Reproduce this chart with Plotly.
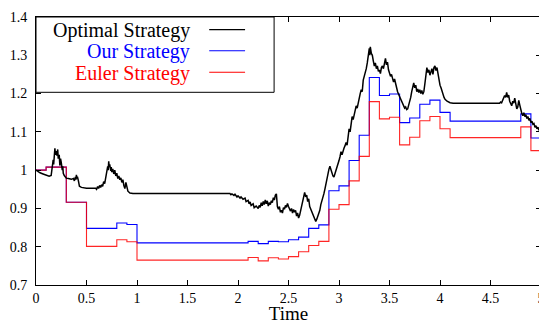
import plotly.graph_objects as go

# ---- data ----
step_times = [round(0.1 * i, 1) for i in range(51)]

our_strategy = [1.000, 1.008, 1.008, 0.916, 0.916, 0.848, 0.848, 0.848, 0.862, 0.858,
                0.810, 0.810, 0.810, 0.810, 0.810, 0.810, 0.810, 0.810, 0.810, 0.810, 0.810,
                0.814, 0.808, 0.814, 0.813, 0.818, 0.825, 0.848, 0.857,
                0.946, 0.959, 1.025, 1.091, 1.242, 1.195, 1.199, 1.124, 1.136, 1.172,
                1.183, 1.151,
                1.128, 1.128, 1.128, 1.128, 1.128, 1.128, 1.128,
                1.147, 1.084]

euler_strategy = [1.000, 1.008, 1.008, 0.916, 0.916, 0.801, 0.801, 0.801, 0.818, 0.813,
                  0.765, 0.765, 0.765, 0.765, 0.765, 0.765, 0.765, 0.765, 0.765, 0.765, 0.765,
                  0.772, 0.763, 0.771, 0.768, 0.774, 0.787, 0.803, 0.814,
                  0.898, 0.910, 0.972, 1.036, 1.179, 1.134, 1.138, 1.066, 1.086, 1.129,
                  1.140, 1.108,
                  1.085, 1.085, 1.085, 1.085, 1.085, 1.085, 1.085,
                  1.113, 1.051]

opt_t = [0.00, 0.02, 0.04, 0.07, 0.10, 0.13, 0.15, 0.16, 0.17, 0.175, 0.18, 0.187, 0.193, 0.20,
         0.207, 0.215, 0.22, 0.23, 0.236, 0.243, 0.25, 0.26, 0.265, 0.27, 0.28, 0.29, 0.30, 0.32,
         0.35, 0.37, 0.38, 0.39, 0.395, 0.40, 0.405, 0.41, 0.42, 0.43, 0.45, 0.50, 0.55, 0.59,
         0.60, 0.61, 0.62, 0.63, 0.64, 0.65, 0.66, 0.67, 0.68, 0.69, 0.70, 0.71, 0.715, 0.72,
         0.725, 0.73, 0.74, 0.745, 0.75, 0.76, 0.77, 0.78, 0.79, 0.80, 0.81, 0.82, 0.83, 0.84,
         0.85, 0.86, 0.87, 0.88, 0.89, 0.90, 0.91, 0.93, 0.96, 1.50, 1.92, 1.93, 1.94, 1.96,
         1.97, 1.99, 2.00, 2.02, 2.03, 2.05, 2.07, 2.08, 2.10, 2.11, 2.12, 2.13, 2.15, 2.16,
         2.18, 2.20, 2.21, 2.22, 2.23, 2.24, 2.25, 2.26, 2.27, 2.28, 2.29, 2.30, 2.31, 2.32,
         2.33, 2.34, 2.35, 2.36, 2.37, 2.38, 2.385, 2.39, 2.40, 2.41, 2.42, 2.43, 2.44, 2.45,
         2.46, 2.47, 2.48, 2.49, 2.50, 2.51, 2.52, 2.53, 2.54, 2.55, 2.56, 2.57, 2.58, 2.59,
         2.60, 2.61, 2.62, 2.63, 2.64, 2.65, 2.66, 2.67, 2.68, 2.69, 2.70, 2.71, 2.72, 2.73,
         2.74, 2.75, 2.76, 2.77, 2.78, 2.79, 2.80, 2.81, 2.82, 2.83, 2.84, 2.85, 2.86, 2.87,
         2.88, 2.89, 2.90, 2.91, 2.92, 2.93, 2.94, 2.95, 2.96, 2.97, 2.98, 2.99, 3.00, 3.01,
         3.02, 3.03, 3.04, 3.05, 3.06, 3.07, 3.08, 3.09, 3.10, 3.11, 3.12, 3.13, 3.14, 3.15,
         3.16, 3.17, 3.18, 3.19, 3.20, 3.21, 3.22, 3.23, 3.24, 3.25, 3.26, 3.27, 3.28, 3.29,
         3.30, 3.305, 3.31, 3.32, 3.33, 3.34, 3.35, 3.36, 3.37, 3.38, 3.39, 3.40, 3.41, 3.42,
         3.43, 3.44, 3.45, 3.46, 3.47, 3.48, 3.49, 3.50, 3.51, 3.52, 3.53, 3.54, 3.55, 3.56,
         3.57, 3.58, 3.59, 3.60, 3.61, 3.62, 3.63, 3.64, 3.65, 3.66, 3.67, 3.68, 3.69, 3.70,
         3.71, 3.72, 3.73, 3.74, 3.75, 3.76, 3.77, 3.78, 3.79, 3.80, 3.81, 3.82, 3.83, 3.84,
         3.85, 3.86, 3.87, 3.88, 3.89, 3.90, 3.91, 3.92, 3.93, 3.94, 3.95, 3.96, 3.97, 3.98,
         3.99, 4.00, 4.01, 4.02, 4.03, 4.04, 4.05, 4.07, 4.10, 4.13, 4.59, 4.60, 4.61, 4.62,
         4.63, 4.64, 4.65, 4.66, 4.67, 4.68, 4.69, 4.70, 4.71, 4.72, 4.73, 4.74, 4.75, 4.76,
         4.77, 4.78, 4.79, 4.80, 4.81, 4.82, 4.83, 4.84, 4.85, 4.86, 4.87, 4.88, 4.89, 4.90,
         4.91, 4.92, 4.93, 4.94, 4.95, 4.96, 4.97, 4.98, 4.99, 5.00]

opt_v = [1.000, 0.996, 0.993, 0.990, 0.987, 0.984, 0.986, 1.005, 1.027, 1.015, 1.045, 1.057, 1.040, 1.050,
         1.038, 1.054, 1.030, 1.040, 1.012, 1.030, 1.020, 1.000, 1.010, 0.992, 0.986, 0.982, 0.979, 0.978,
         0.976, 0.978, 0.972, 0.982, 0.975, 0.988, 0.978, 0.983, 0.972, 0.958, 0.955, 0.953, 0.953, 0.953,
         0.950, 0.957, 0.952, 0.960, 0.955, 0.962, 0.958, 0.970, 0.965, 0.982, 0.995, 1.010, 1.000, 1.023,
         1.008, 1.015, 0.998, 1.008, 0.995, 1.003, 0.990, 1.000, 0.985, 0.992, 0.978, 0.985, 0.975, 0.980,
         0.968, 0.975, 0.960, 0.952, 0.968, 0.955, 0.945, 0.940, 0.939, 0.939, 0.939, 0.936, 0.938, 0.934,
         0.937, 0.930, 0.933, 0.927, 0.930, 0.924, 0.927, 0.918, 0.921, 0.912, 0.917, 0.908, 0.912, 0.902,
         0.906, 0.900, 0.908, 0.903, 0.915, 0.907, 0.918, 0.910, 0.922, 0.912, 0.920, 0.906, 0.915, 0.910,
         0.920, 0.915, 0.928, 0.922, 0.935, 0.938, 0.918, 0.905, 0.898, 0.905, 0.890, 0.895, 0.888, 0.902,
         0.898, 0.908, 0.903, 0.913, 0.905, 0.898, 0.893, 0.900, 0.888, 0.897, 0.890, 0.895, 0.880, 0.888,
         0.875, 0.882, 0.895, 0.905, 0.920, 0.930, 0.942, 0.930, 0.935, 0.918, 0.925, 0.905, 0.898, 0.890,
         0.882, 0.875, 0.870, 0.866, 0.872, 0.880, 0.888, 0.895, 0.910, 0.918, 0.925, 0.938, 0.950, 0.965,
         0.980, 0.997, 1.002, 1.010, 1.000, 0.992, 0.985, 0.982, 0.990, 0.995, 1.003, 1.015, 1.025, 1.035,
         1.048, 1.040, 1.052, 1.058, 1.064, 1.072, 1.065, 1.090, 1.108, 1.100, 1.118, 1.140, 1.132, 1.145,
         1.152, 1.168, 1.162, 1.178, 1.190, 1.200, 1.210, 1.205, 1.235, 1.245, 1.250, 1.265, 1.280, 1.300,
         1.318, 1.300, 1.322, 1.305, 1.300, 1.285, 1.272, 1.280, 1.265, 1.272, 1.258, 1.262, 1.252, 1.268,
         1.272, 1.265, 1.285, 1.292, 1.275, 1.282, 1.262, 1.255, 1.245, 1.250, 1.236, 1.230, 1.238, 1.225,
         1.210, 1.205, 1.198, 1.192, 1.185, 1.178, 1.170, 1.165, 1.162, 1.165, 1.158, 1.160, 1.168, 1.180,
         1.190, 1.205, 1.215, 1.228, 1.215, 1.222, 1.205, 1.212, 1.203, 1.210, 1.200, 1.208, 1.198, 1.205,
         1.225, 1.245, 1.268, 1.255, 1.262, 1.248, 1.258, 1.265, 1.250, 1.268, 1.272, 1.260, 1.268, 1.250,
         1.235, 1.222, 1.215, 1.205, 1.196, 1.190, 1.185, 1.180, 1.176, 1.175, 1.175, 1.178, 1.176, 1.182,
         1.186, 1.195, 1.190, 1.203, 1.190, 1.196, 1.180, 1.172, 1.168, 1.180, 1.175, 1.188, 1.172, 1.160,
         1.165, 1.182, 1.170, 1.155, 1.148, 1.142, 1.150, 1.140, 1.145, 1.135, 1.140, 1.130, 1.135, 1.124,
         1.128, 1.120, 1.122, 1.112, 1.116, 1.108, 1.112, 1.104, 1.108, 1.104]

x_ticks = [0, 0.5, 1, 1.5, 2, 2.5, 3, 3.5, 4, 4.5, 5]
x_tick_labels = ["0", "0.5", "1", "1.5", "2", "2.5", "3", "3.5", "4", "4.5", "5"]
y_ticks = [0.7, 0.8, 0.9, 1.0, 1.1, 1.2, 1.3, 1.4]
y_tick_labels = ["0.7", "0.8", "0.9", "1", "1.1", "1.2", "1.3", "1.4"]

series_names = ["Optimal Strategy", "Our Strategy", "Euler Strategy"]
series_colors = ["#000000", "#0000ff", "#ff0000"]

FONT = "Liberation Serif, Times New Roman, serif"

fig = go.Figure()
fig.add_trace(go.Scatter(x=step_times, y=our_strategy + [our_strategy[-1]], mode="lines",
                         line=dict(color=series_colors[1], width=1.1, shape="hv"),
                         name=series_names[1], showlegend=False))
fig.add_trace(go.Scatter(x=step_times, y=euler_strategy + [euler_strategy[-1]], mode="lines",
                         line=dict(color=series_colors[2], width=1.1, shape="hv"), opacity=0.85,
                         name=series_names[2], showlegend=False))
fig.add_trace(go.Scatter(x=opt_t, y=opt_v, mode="lines",
                         line=dict(color=series_colors[0], width=1.5),
                         name=series_names[0], showlegend=False))

# gnuplot-style legend box (text right-aligned, sample line on the right)
shapes = [dict(type="rect", xref="paper", yref="paper", x0=0, x1=0.4715, y0=0.719, y1=1,
               line=dict(color="black", width=1), fillcolor="white", layer="above")]
annotations = []
legend_rows = [0.949, 0.870, 0.790]
for name, color, yr in zip(series_names, series_colors, legend_rows):
    annotations.append(dict(text=name, xref="paper", yref="paper", x=0.308, y=yr,
                            xanchor="right", yanchor="middle", showarrow=False,
                            font=dict(family=FONT, size=20, color=color)))
    shapes.append(dict(type="line", xref="paper", yref="paper", x0=0.343, x1=0.414,
                       y0=yr + 0.004, y1=yr + 0.004, line=dict(color=color, width=1.1),
                       layer="above"))

# page body has an 8px margin: figure is shrunk/shifted so the plot lands where the reference has it
fig.update_layout(
    width=539, height=316,
    margin=dict(l=28, r=2, t=5, b=37),
    paper_bgcolor="white", plot_bgcolor="white",
    font=dict(family=FONT, size=14, color="black"),
    shapes=shapes, annotations=annotations,
    xaxis=dict(range=[0, 5], tickvals=x_ticks, ticktext=x_tick_labels,
               ticks="inside", ticklen=5, tickcolor="black", showline=True, linecolor="black",
               linewidth=1, mirror="ticks", showgrid=False, zeroline=False,
               title=dict(text="Time", font=dict(family=FONT, size=19), standoff=3),
               tickfont=dict(family=FONT, size=14), ticklabeloverflow="allow"),
    yaxis=dict(range=[0.7, 1.4], tickvals=y_ticks, ticktext=y_tick_labels,
               ticks="inside", ticklen=5, tickcolor="black", showline=True, linecolor="black",
               linewidth=1, mirror="ticks", showgrid=False, zeroline=False,
               tickfont=dict(family=FONT, size=14), ticklabelstandoff=5,
               ticklabeloverflow="allow"),
)

fig.write_html("out.html")
